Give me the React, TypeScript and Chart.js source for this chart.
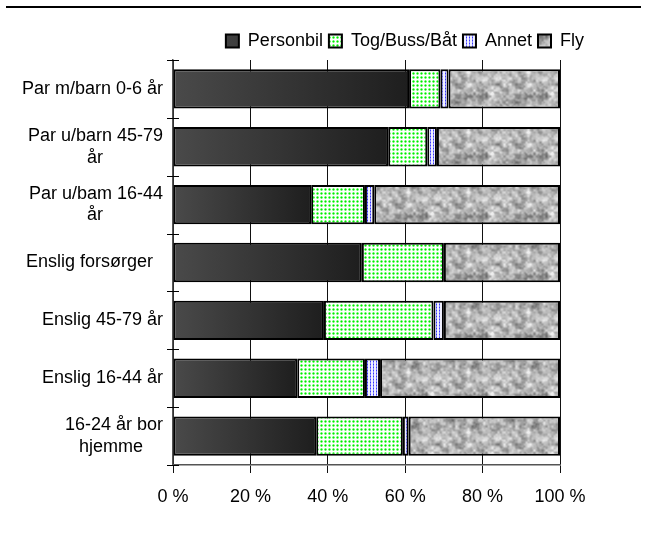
import React, { useEffect, useRef } from 'react';
import { Chart, registerables } from 'chart.js';

Chart.register(...registerables);

const FONT = "'Liberation Sans', Arial, sans-serif";
const FS = 18;

const categories: (string | string[])[] = [
  'Par m/barn 0-6 år',
  ['Par u/barn 45-79', 'år            '],
  ['Par u/bam 16-44', 'år            '],
  'Enslig forsørger  ',
  'Enslig 45-79 år',
  'Enslig 16-44 år',
  ['16-24 år bor', 'hjemme    '],
];

const seriesNames = ['Personbil', 'Tog/Buss/Båt', 'Annet', 'Fly'];

const personbil = [61.0, 55.6, 35.7, 48.8, 39.0, 32.1, 37.0];
const togBussBat = [8.1, 10.1, 13.9, 21.2, 28.3, 17.5, 22.4];
const annet = [2.1, 2.5, 2.4, 0, 2.7, 3.9, 1.5];
const fly = [28.8, 31.8, 48.0, 30.0, 30.0, 46.5, 39.1];

const xTickValues = [0, 20, 40, 60, 80, 100];

function makeTile(w: number, h: number, paint: (c: CanvasRenderingContext2D) => void) {
  const cv = document.createElement('canvas');
  cv.width = w;
  cv.height = h;
  const c = cv.getContext('2d')!;
  paint(c);
  return cv;
}

function hash(i: number, j: number) {
  let h = (Math.imul(i, 374761393) + Math.imul(j, 668265263)) | 0;
  h = Math.imul(h ^ (h >>> 13), 1274126177);
  h ^= h >>> 16;
  return (h >>> 0) / 4294967295;
}

function valueNoise(x: number, y: number, cell: number, period: number, seed: number) {
  const gx = x / cell;
  const gy = y / cell;
  const x0 = Math.floor(gx);
  const y0 = Math.floor(gy);
  const fx = gx - x0;
  const fy = gy - y0;
  const sx = fx * fx * (3 - 2 * fx);
  const sy = fy * fy * (3 - 2 * fy);
  const w = (a: number) => ((a % period) + period) % period;
  const v00 = hash(w(x0) + seed, w(y0));
  const v10 = hash(w(x0 + 1) + seed, w(y0));
  const v01 = hash(w(x0) + seed, w(y0 + 1));
  const v11 = hash(w(x0 + 1) + seed, w(y0 + 1));
  const a = v00 + (v10 - v00) * sx;
  const b = v01 + (v11 - v01) * sx;
  return a + (b - a) * sy;
}

function buildPatterns(ctx: CanvasRenderingContext2D) {
  const green = makeTile(4, 4, (c) => {
    c.fillStyle = '#ffffff';
    c.fillRect(0, 0, 4, 4);
    c.fillStyle = '#c8ffc8';
    c.fillRect(0, 0, 3, 3);
    c.fillStyle = '#60f860';
    c.fillRect(1, 0, 1, 3);
    c.fillRect(0, 1, 3, 1);
    c.fillStyle = '#00e800';
    c.fillRect(1, 1, 1, 1);
  });
  const blue = makeTile(3, 3, (c) => {
    c.fillStyle = '#f0f0ff';
    c.fillRect(0, 0, 3, 3);
    c.fillStyle = '#8c8cff';
    c.fillRect(1, 0, 1, 3);
    c.fillStyle = '#3434ff';
    c.fillRect(1, 1, 1, 1);
  });
  const size = 60;
  const gray = makeTile(size, size, (c) => {
    const img = c.createImageData(size, size);
    for (let y = 0; y < size; y++) {
      for (let x = 0; x < size; x++) {
        const n1 = valueNoise(x, y, 6, size / 6, 11);
        const n2 = valueNoise(x, y, 3, size / 3, 53);
        const n3 = valueNoise(x, y, 2, size / 2, 97);
        const v = 0.45 * n1 + 0.35 * n2 + 0.2 * n3;
        let g = 90 + 175 * v;
        g = Math.max(95, Math.min(238, g));
        const k = (y * size + x) * 4;
        img.data[k] = g;
        img.data[k + 1] = g;
        img.data[k + 2] = g;
        img.data[k + 3] = 255;
      }
    }
    c.putImageData(img, 0, 0);
  });
  return {
    green: ctx.createPattern(green, 'repeat')!,
    blue: ctx.createPattern(blue, 'repeat')!,
    gray: ctx.createPattern(gray, 'repeat')!,
  };
}

const decorPlugin = {
  id: 'decor',
  afterDraw(chart: any) {
    const { ctx } = chart;
    const y = chart.scales.y;
    ctx.save();
    ctx.strokeStyle = '#000';
    ctx.lineWidth = 2;
    ctx.beginPath();
    ctx.moveTo(6, 7);
    ctx.lineTo(641, 7);
    ctx.stroke();
    const n = chart.data.labels.length;
    const step = y.getPixelForValue(1) - y.getPixelForValue(0);
    const first = y.getPixelForValue(0) - step / 2;
    ctx.lineWidth = 1;
    ctx.beginPath();
    for (let i = 0; i <= n; i++) {
      const py = Math.round(first + i * step) + 0.5;
      ctx.moveTo(y.right - 6, py);
      ctx.lineTo(y.right + 6, py);
    }
    ctx.stroke();
    ctx.restore();
  },
};

export default function App() {
  const ref = useRef<HTMLCanvasElement | null>(null);

  useEffect(() => {
    const canvas = ref.current!;
    const ctx2d = canvas.getContext('2d')!;
    const pats = buildPatterns(ctx2d);

    const carFill = (c: any) => {
      const chart = c.chart;
      const xs = chart.scales && chart.scales.x;
      if (c.type !== 'data' || !xs || !chart.chartArea) return '#333333';
      const x0 = xs.getPixelForValue(0);
      const x1 = xs.getPixelForValue(c.raw);
      if (!isFinite(x0) || !isFinite(x1) || x1 <= x0) return '#333333';
      const g = chart.ctx.createLinearGradient(x0, 0, x1, 0);
      g.addColorStop(0, '#4a4a4a');
      g.addColorStop(1, '#1e1e1e');
      return g;
    };

    const common = {
      borderColor: '#000000',
      borderWidth: 2,
      borderSkipped: false,
      barPercentage: 0.68,
      categoryPercentage: 1,
      xAxisID: 'x',
      yAxisID: 'y',
    };

    const chart = new Chart(canvas, {
      type: 'bar',
      data: {
        labels: categories as any,
        datasets: [
          { label: seriesNames[0], data: personbil, backgroundColor: carFill as any, ...common },
          { label: seriesNames[1], data: togBussBat, backgroundColor: pats.green as any, ...common },
          { label: seriesNames[2], data: annet, backgroundColor: pats.blue as any, ...common },
          { label: seriesNames[3], data: fly, backgroundColor: pats.gray as any, ...common },
        ],
      },
      options: {
        indexAxis: 'y',
        responsive: false,
        animation: false,
        devicePixelRatio: 1,
        layout: { padding: { top: 26, right: 63, left: 0, bottom: 0 } },
        font: { family: FONT, size: FS } as any,
        plugins: {
          tooltip: { enabled: false },
          legend: {
            position: 'top',
            align: 'end',
            labels: {
              boxWidth: 13,
              boxHeight: 13,
              padding: 6,
              color: '#000',
              font: { family: FONT, size: FS },
            },
          },
        },
        scales: {
          x: {
            stacked: true,
            min: 0,
            max: 100,
            afterBuildTicks: (s: any) => {
              s.ticks = xTickValues.map((v) => ({ value: v }));
            },
            afterFit: (s: any) => {
              s.height = 68;
            },
            ticks: {
              color: '#000',
              padding: 13,
              font: { family: FONT, size: FS },
              maxRotation: 0,
              callback: (v: any) => `${v} %`,
            },
            grid: {
              color: '#111',
              lineWidth: 1,
              drawTicks: true,
              tickLength: 8,
            },
            border: { display: true, color: '#555', width: 1.5 },
          },
          y: {
            stacked: true,
            afterFit: (s: any) => {
              s.width = 173;
              s.paddingTop = 35;
            },
            ticks: {
              color: '#000',
              padding: 10,
              font: { family: FONT, size: FS, lineHeight: 1.2 },
              autoSkip: false,
            },
            grid: { display: false, drawTicks: false },
            border: { display: true, color: '#555', width: 1.5 },
          },
          spacer: {
            type: 'linear',
            axis: 'y',
            position: 'right',
            display: true,
            afterFit: (s: any) => {
              s.width = 30;
            },
            ticks: { display: false },
            grid: { display: false, drawTicks: false },
            border: { display: false },
          },
        },
      },
      plugins: [decorPlugin],
    });

    return () => chart.destroy();
  }, []);

  return (
    <div style={{ position: 'absolute', left: 0, top: 0, width: 653, height: 533, background: '#fff' }}>
      <canvas ref={ref} width={653} height={533} style={{ display: 'block' }} />
    </div>
  );
}
